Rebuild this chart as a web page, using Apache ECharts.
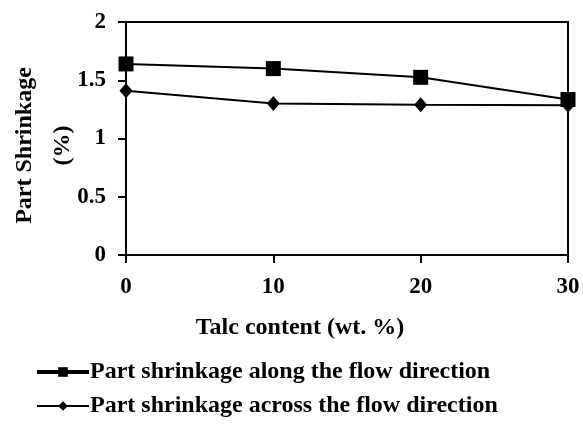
<!DOCTYPE html>
<html><head><meta charset="utf-8">
<script src="https://cdn.jsdelivr.net/npm/echarts@6/dist/echarts.min.js"></script>
<style>html,body{margin:0;padding:0;background:#fff}#c{width:583px;height:426px}</style>
</head><body><div id="c"></div>
<script>
const talc = [0, 10, 20, 30];
const alongFlow = [1.64, 1.60, 1.525, 1.335];
const acrossFlow = [1.41, 1.30, 1.29, 1.285];
const yTicks = [0, 0.5, 1, 1.5, 2];
const seriesNames = ['Part shrinkage along the flow direction', 'Part shrinkage across the flow direction'];
const FONT = '"Liberation Serif", "Times New Roman", serif';

const chart = echarts.init(document.getElementById('c'));
chart.setOption({
  animation: false,
  backgroundColor: '#fff',
  textStyle: {fontFamily: FONT, fontWeight: 'bold', color: '#000'},
  grid: {left: 126, right: 15, top: 22, bottom: 171, containLabel: false, outerBoundsMode: 'none',
    show: true, borderColor: '#000', borderWidth: 2, backgroundColor: 'transparent'},
  xAxis: {
    type: 'value', min: 0, max: 30, interval: 10,
    name: 'Talc content (wt. %)', nameLocation: 'middle', nameGap: 61,
    nameTextStyle: {fontFamily: FONT, fontWeight: 'bold', fontSize: 24, color: '#000', padding: [0, 94, 0, 0]},
    axisLine: {show: true, lineStyle: {color: '#000', width: 2}},
    axisTick: {show: true, inside: false, length: 8, lineStyle: {color: '#000', width: 2}},
    axisLabel: {fontFamily: FONT, fontWeight: 'bold', fontSize: 23, color: '#000', margin: 21,
      formatter: v => talc.includes(v) ? String(v) : ''},
    splitLine: {show: false}
  },
  yAxis: {
    type: 'value', min: 0, max: 2, interval: 0.5,
    name: 'Part Shrinkage\n(%)', nameLocation: 'middle', nameGap: 44, nameRotate: 90, nameMoveOverlap: false,
    nameTextStyle: {fontFamily: FONT, fontWeight: 'bold', fontSize: 24, color: '#000', lineHeight: 38, padding: [0, 14, 0, 0]},
    axisLine: {show: true, lineStyle: {color: '#000', width: 2}},
    axisTick: {show: true, inside: false, length: 8, lineStyle: {color: '#000', width: 2}},
    axisLabel: {fontFamily: FONT, fontWeight: 'bold', fontSize: 23, color: '#000', margin: 20,
      formatter: v => yTicks.includes(v) ? String(v) : ''},
    splitLine: {show: false}
  },
  legend: {
    orient: 'vertical', left: 30, top: 355, itemGap: 10, itemWidth: 52, itemHeight: 12,
    textStyle: {fontFamily: FONT, fontWeight: 'bold', fontSize: 24, color: '#000', padding: [0, 0, 0, -4]},
    data: [
      {name: seriesNames[0], lineStyle: {width: 4}},
      {name: seriesNames[1], lineStyle: {width: 2}}
    ]
  },
  series: [
    {
      name: seriesNames[0], type: 'line',
      data: talc.map((t, i) => [t, alongFlow[i]]),
      symbol: 'rect', symbolSize: 15,
      lineStyle: {color: '#000', width: 2},
      itemStyle: {color: '#000'}
    },
    {
      name: seriesNames[1], type: 'line',
      data: talc.map((t, i) => [t, acrossFlow[i]]),
      symbol: 'diamond', symbolSize: [13, 15],
      lineStyle: {color: '#000', width: 2},
      itemStyle: {color: '#000'}
    }
  ]
});
</script></body></html>
